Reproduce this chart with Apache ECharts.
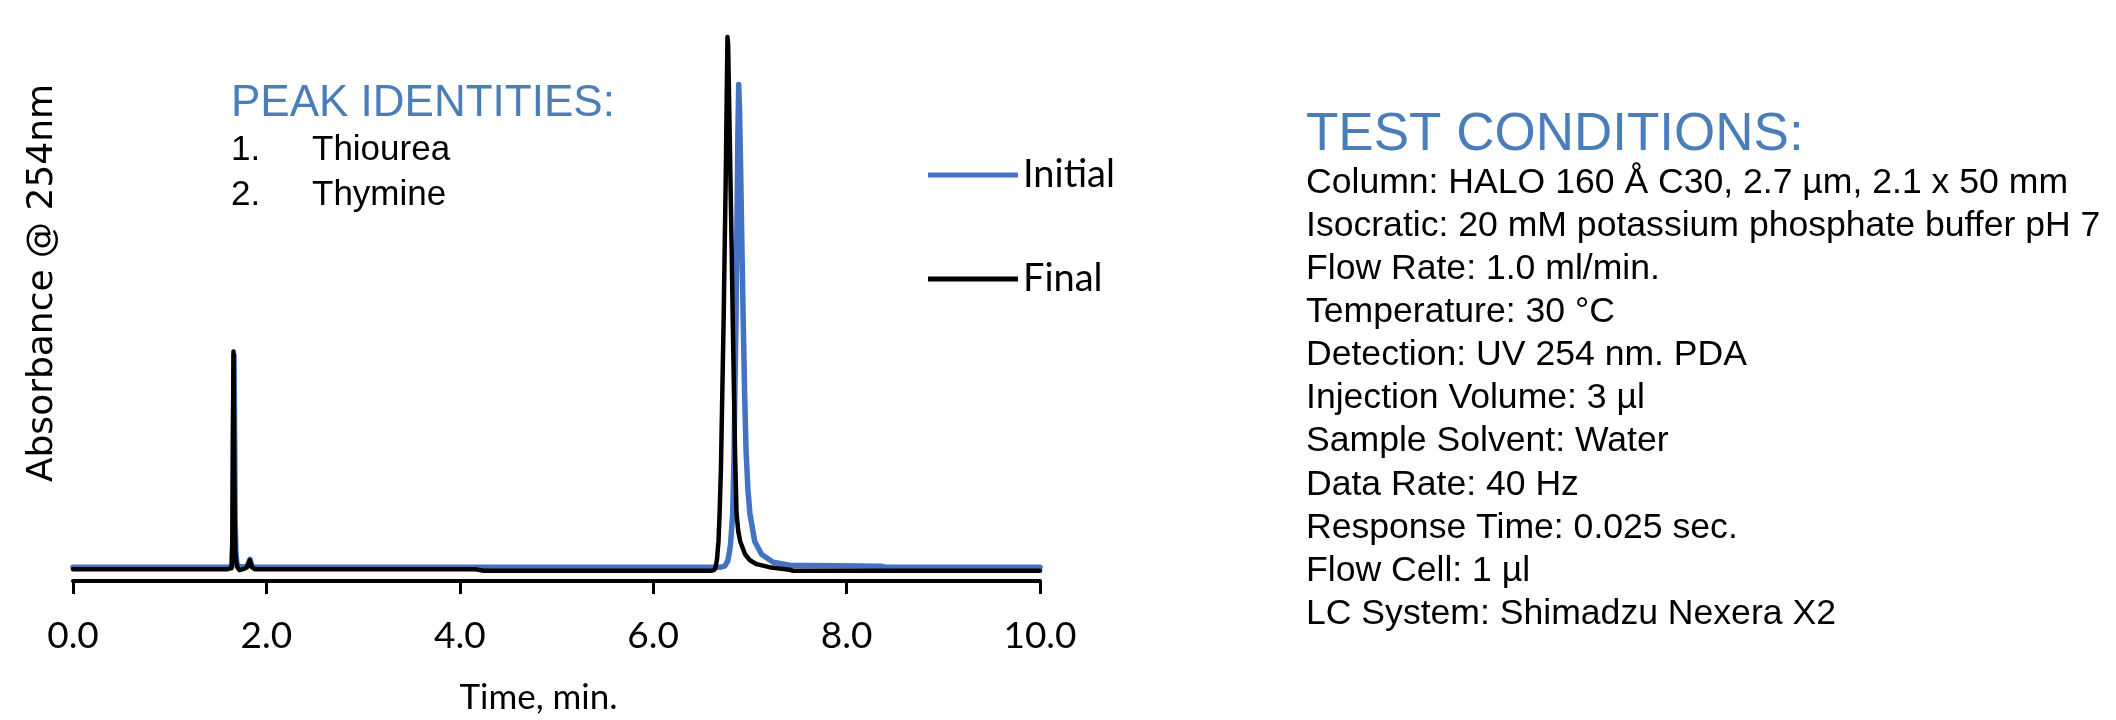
<!DOCTYPE html>
<html>
<head>
    <meta charset="UTF-8">
    <title>Chromatogram</title>
    <script type="text/javascript" src="https://cdn.jsdelivr.net/npm/echarts@6/dist/echarts.min.js"></script>
</head>
<body style="margin:0;background:#fff">
<div id="main" style="width:2116px;height:720px;"></div>
<script type="text/javascript">
    // traces: [time (min), absorbance (arb.)]
    var initialTrace = [
        [0, 1], [1.60, 1], [1.646, 1.5], [1.654, 15], [1.66, 70], [1.665, 108], [1.671, 70],
        [1.677, 25], [1.685, 8], [1.695, 3], [1.71, 1.5], [1.725, 0.5], [1.76, 1], [1.80, 1.5],
        [1.83, 5], [1.85, 1.5], [1.88, 1], [6.70, 1], [6.74, 1.5], [6.77, 4], [6.79, 9],
        [6.80, 13], [6.822, 27.5], [6.835, 55], [6.845, 90], [6.857, 128], [6.865, 170],
        [6.875, 217], [6.884, 245], [6.893, 232], [6.905, 200], [6.915, 170], [6.93, 128],
        [6.945, 90], [6.96, 60], [6.98, 40], [7.00, 28], [7.05, 14], [7.12, 7.5], [7.24, 3.5],
        [7.41, 2], [8.35, 1.5], [8.40, 1], [10, 1]
    ];
    var finalTrace = [
        [0, 0], [1.60, 0], [1.64, 0.5], [1.648, 15], [1.654, 70], [1.66, 110], [1.666, 70],
        [1.672, 25], [1.68, 8], [1.69, 3], [1.70, 1], [1.72, -0.5], [1.76, 0], [1.80, 1],
        [1.83, 4.5], [1.85, 1], [1.88, 0], [4.15, 0], [4.25, -0.8], [6.60, -0.8], [6.63, -0.5],
        [6.645, 1], [6.66, 5], [6.675, 14], [6.686, 27], [6.70, 50], [6.715, 90], [6.729, 128],
        [6.74, 165], [6.75, 197], [6.76, 238], [6.768, 269], [6.775, 265], [6.785, 237],
        [6.80, 194], [6.812, 160], [6.822, 128], [6.835, 90], [6.848, 55], [6.862, 28],
        [6.88, 19], [6.90, 14], [6.95, 7.5], [7.00, 4.5], [7.07, 2.5], [7.20, 1], [7.41, -0.3],
        [7.45, -0.8], [10, -0.8]
    ];
    var legendNames = ['Initial', 'Final'];
    var peakNames = ['Thiourea', 'Thymine'];
    var conditions = [
        'Column: HALO 160 Å C30, 2.7 µm, 2.1 x 50 mm',
        'Isocratic: 20 mM potassium phosphate buffer pH 7',
        'Flow Rate: 1.0 ml/min.',
        'Temperature: 30 °C',
        'Detection: UV 254 nm. PDA',
        'Injection Volume: 3 µl',
        'Sample Solvent: Water',
        'Data Rate: 40 Hz',
        'Response Time: 0.025 sec.',
        'Flow Cell: 1 µl',
        'LC System: Shimadzu Nexera X2'
    ];

    var blue = '#4472C4';
    var titleBlue = '#4A7EBB';

    // notes drawn as text
    var graphics = [
        {type: 'text', x: 231, y: 104, style: {text: 'PEAK IDENTITIES:', font: '44px "Liberation Sans"', fill: titleBlue, verticalAlign: 'middle'}},
        {type: 'text', x: 1306, y: 135, style: {text: 'TEST CONDITIONS:', font: '53px "Liberation Sans"', fill: titleBlue, verticalAlign: 'middle'}}
    ];
    peakNames.forEach(function (name, i) {
        graphics.push({type: 'text', x: 231, y: 150 + i * 45, style: {text: (i + 1) + '.', font: '35px "Liberation Sans"', fill: '#000', verticalAlign: 'middle'}});
        graphics.push({type: 'text', x: 312, y: 150 + i * 45, style: {text: name, font: '35px "Liberation Sans"', fill: '#000', verticalAlign: 'middle'}});
    });
    conditions.forEach(function (line, i) {
        graphics.push({type: 'text', x: 1306, y: 183 + i * 43.1, style: {text: line, font: '35.6px "Liberation Sans"', fill: '#000', verticalAlign: 'middle'}});
    });

    var myChart = echarts.init(document.getElementById('main'));
    var option = {
        animation: false,
        backgroundColor: '#fff',
        grid: {left: 73, right: 1076, top: 35, bottom: 133},
        legend: {
            orient: 'vertical',
            left: 923,
            top: 150,
            icon: 'rect',
            itemWidth: 90,
            itemHeight: 5,
            itemGap: 64,
            textStyle: {fontFamily: 'Lato', fontSize: 38, color: '#000', lineHeight: 40},
            data: legendNames
        },
        xAxis: {
            type: 'value',
            min: 0,
            max: 10,
            interval: 2,
            name: 'Time, min.',
            nameLocation: 'middle',
            nameGap: 99,
            nameTextStyle: {fontFamily: 'Lato', fontSize: 35, color: '#000', padding: [0, 36, 0, 0]},
            axisLine: {onZero: false, lineStyle: {color: '#000', width: 4}},
            axisTick: {length: 13, lineStyle: {color: '#000', width: 3}},
            axisLabel: {
                margin: 37,
                fontFamily: 'Lato',
                fontSize: 37,
                color: '#000',
                formatter: function (v) { return v.toFixed(1); }
            },
            splitLine: {show: false}
        },
        yAxis: {
            type: 'value',
            min: -6,
            max: 270,
            name: 'Absorbance @ 254nm',
            nameLocation: 'middle',
            nameGap: 12,
            nameTextStyle: {fontFamily: 'DejaVu Sans', fontSize: 36, color: '#000', padding: [0, 0, 0, 50]},
            axisLine: {show: false},
            axisTick: {show: false},
            axisLabel: {show: false},
            splitLine: {show: false}
        },
        series: [
            {
                name: 'Initial',
                type: 'line',
                data: initialTrace,
                showSymbol: false,
                symbol: 'none',
                itemStyle: {color: blue},
                lineStyle: {color: blue, width: 5.5, cap: 'round', join: 'round'}
            },
            {
                name: 'Final',
                type: 'line',
                data: finalTrace,
                showSymbol: false,
                symbol: 'none',
                itemStyle: {color: '#000'},
                lineStyle: {color: '#000', width: 4.5, cap: 'round', join: 'round'}
            }
        ],
        graphic: graphics
    };
    myChart.setOption(option);
</script>
</body>
</html>
